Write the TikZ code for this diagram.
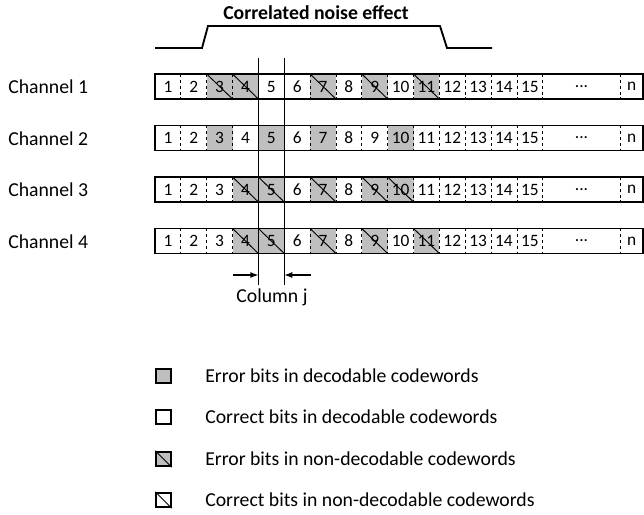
\documentclass[tikz,border=0pt]{standalone}
\usepackage{fontspec}
\setmainfont{Carlito}
\usetikzlibrary{arrows.meta}
\definecolor{errgray}{RGB}{191,191,191}
\def\cw{25.85}
\begin{document}
\begin{tikzpicture}[x=0.75pt,y=-0.75pt,
  cellbox/.style={minimum width=\cw*0.75pt, minimum height=25*0.75pt, inner sep=0pt, outer sep=0pt, font=\fontsize{13}{15}\selectfont},
  divider/.style={dashed, dash pattern=on 2.2pt off 2.2pt, line width=0.6pt},
  border/.style={line width=1.4pt},
  diag/.style={line width=0.7pt},
  jline/.style={line width=1pt},
  lbl/.style={font=\fontsize{14.8}{17}\selectfont, inner sep=0pt},
  legbox/.style={minimum width=11pt, minimum height=11pt, inner sep=0pt, draw, line width=1.3pt},
  noise/.style={line width=1.4pt},
  arr/.style={line width=0.9pt, -{Latex[length=6pt,width=4.5pt]}}
]
\useasboundingbox (0,0) rectangle (644,515);

% title and noise profile
\node[lbl, font=\fontsize{14.8}{17}\selectfont\bfseries] (title) at (316,13) {Correlated noise effect};
\coordinate (n1) at (155,48);
\coordinate (n2) at (202,48);
\coordinate (n3) at (208,26);
\coordinate (n4) at (440,26);
\coordinate (n5) at (447,48);
\coordinate (n6) at (492,48);
\draw[noise] (n1) -- (n2) -- (n3) -- (n4) -- (n5) -- (n6);

% channels
\foreach \r/\ty/\pat in {1/74/{0,0,2,2,0,0,2,0,2,0,2,0,0,0,0},
                         2/125.5/{0,0,1,0,1,0,1,0,0,1,0,0,0,0,0},
                         3/177/{0,0,0,2,2,0,2,0,2,2,0,0,0,0,0},
                         4/228.5/{0,0,0,2,2,0,2,0,2,0,2,0,0,0,0}} {
  \node[lbl, anchor=west] (ch\r) at (8,{\ty+13}) {Channel \r};
  \foreach \s [count=\k] in \pat {
    \ifcase\s \def\cfill{white}\or \def\cfill{errgray}\or \def\cfill{errgray}\fi
    \node[cellbox, fill=\cfill] (c\r-\k) at ({155+(\k-0.5)*\cw},{\ty+12.5}) {\k};
    \ifnum\s=2 \draw[diag] (c\r-\k.north west) -- (c\r-\k.south east);\fi
  }
  \node[cellbox, minimum width=3*\cw*0.75pt] (c\r-dots) at ({155+16.5*\cw},{\ty+12.5}) {...};
  \node[cellbox, minimum width={(643-155-18*\cw)*0.75pt}] (c\r-n) at ({(155+18*\cw+643)/2},{\ty+12.5}) {n};
  \foreach \k in {1,...,15} {
    \draw[divider] (c\r-\k.north east) -- (c\r-\k.south east);
  }
  \draw[divider] (c\r-dots.north east) -- (c\r-dots.south east);
  \draw[border] (c\r-1.north west) rectangle (c\r-n.south east);
}

% column j markers
\coordinate (jlt) at ({155+4*\cw},58);
\coordinate (jlb) at ({155+4*\cw},285);
\coordinate (jrt) at ({155+5*\cw},58);
\coordinate (jrb) at ({155+5*\cw},285);
\draw[jline] (jlt) -- (jlb);
\draw[jline] (jrt) -- (jrb);
\coordinate (al) at (233,275);
\coordinate (ar) at (311,275);
\draw[arr] (al) -- (jlb |- al);
\draw[arr] (ar) -- (jrb |- ar);
\node[lbl] (colj) at (272,297) {Column j};

% legend
\node[legbox, fill=errgray] (lg1) at (163.5,376) {};
\node[legbox, fill=white] (lg2) at (163.5,417) {};
\node[legbox, fill=errgray] (lg3) at (163.5,459) {};
\node[legbox, fill=white] (lg4) at (163.5,500) {};
\draw[diag] (lg3.north west) -- (lg3.south east);
\draw[diag] (lg4.north west) -- (lg4.south east);
\node[lbl, anchor=west] (lt1) at (205,376) {Error bits in decodable codewords};
\node[lbl, anchor=west] (lt2) at (205,417) {Correct bits in decodable codewords};
\node[lbl, anchor=west] (lt3) at (205,459) {Error bits in non-decodable codewords};
\node[lbl, anchor=west] (lt4) at (205,500) {Correct bits in non-decodable codewords};
\end{tikzpicture}
\end{document}
